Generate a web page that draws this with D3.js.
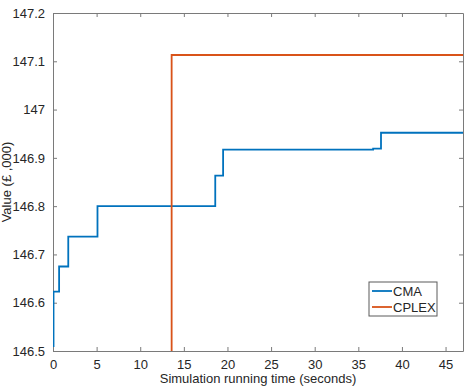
<!DOCTYPE html>
<html>
<head>
<meta charset="utf-8">
<script src="https://cdn.jsdelivr.net/npm/d3@7"></script>
<style>
	body { margin: 0; background: #fff; }
	text { font-family: "Liberation Sans", Arial, sans-serif; fill: #262626; }
</style>
</head>
<body>
<div id="chart"></div>
<script>
// CMA best value over time (step plot)
const cmaTime = [0, 0.06, 0.7, 1.75, 5.1, 18.6, 19.5, 36.7, 37.6, 47];
const cmaValue = [146.51, 146.623, 146.675, 146.737, 146.8, 146.863, 146.917, 146.919, 146.952, 146.952];

// CPLEX result appears at ~13.6 s
const cplexTime = [13.6, 13.6, 47];
const cplexValue = [146.4, 147.113, 147.113];

const xTicks = [0, 5, 10, 15, 20, 25, 30, 35, 40, 45];
const yTicks = [146.5, 146.6, 146.7, 146.8, 146.9, 147, 147.1, 147.2];
const yTickLabels = ['146.5', '146.6', '146.7', '146.8', '146.9', '147', '147.1', '147.2'];

const seriesNames = ['CMA', 'CPLEX'];
const seriesColors = ['#0072BD', '#D95319'];

function drawGraph() {
	const margin = { top: 13, right: 8, bottom: 37, left: 53 };
	const width = 471 - margin.left - margin.right;
	const h = 338;

	const xScale = d3.scaleLinear().domain([0, 47]).range([0, width]);
	const yScale = d3.scaleLinear().domain([146.5, 147.2]).range([h, 0]);

	const svg = d3
		.select('#chart')
		.append('svg')
		.attr('width', 471)
		.attr('height', 388)
		.append('g')
		.attr('transform', `translate(${margin.left}, ${margin.top})`);

	svg.append('defs').append('clipPath').attr('id', 'clip').append('rect').attr('width', width).attr('height', h);

	const tickLen = 4;
	const axisColor = '#7a7a7a';

	// box axes, ticks pointing inward
	const xBottom = svg.append('g').attr('transform', `translate(0, ${h})`)
		.call(d3.axisBottom(xScale).tickValues(xTicks).tickSizeInner(-tickLen).tickSizeOuter(0).tickPadding(9));
	const xTop = svg.append('g')
		.call(d3.axisTop(xScale).tickValues(xTicks).tickSizeInner(-tickLen).tickSizeOuter(0).tickFormat(''));
	const yLeft = svg.append('g')
		.call(d3.axisLeft(yScale).tickValues(yTicks).tickSizeInner(-tickLen).tickSizeOuter(0).tickPadding(8)
			.tickFormat((d, i) => yTickLabels[i]));
	const yRight = svg.append('g').attr('transform', `translate(${width}, 0)`)
		.call(d3.axisRight(yScale).tickValues(yTicks).tickSizeInner(-tickLen).tickSizeOuter(0).tickFormat(''));

	[xBottom, xTop, yLeft, yRight].forEach((g) => {
		g.selectAll('path').attr('stroke', axisColor);
		g.selectAll('line').attr('stroke', axisColor);
		g.selectAll('text').style('font-size', '13px').attr('fill', '#262626');
	});

	const line = d3.line()
		.x((d) => xScale(d[0]))
		.y((d) => yScale(d[1]))
		.curve(d3.curveStepAfter);

	const series = [
		d3.zip(cmaTime, cmaValue),
		d3.zip(cplexTime, cplexValue),
	];

	svg.append('g').attr('clip-path', 'url(#clip)')
		.selectAll('path')
		.data(series)
		.enter()
		.append('path')
		.attr('d', (d) => line(d))
		.attr('fill', 'none')
		.attr('stroke', (d, i) => seriesColors[i])
		.attr('stroke-width', 1.8);

	// axis titles
	svg.append('text')
		.attr('x', width / 2)
		.attr('y', h + 32)
		.attr('text-anchor', 'middle')
		.style('font-size', '13px')
		.text('Simulation running time (seconds)');

	svg.append('text')
		.attr('transform', `translate(${-42}, ${h / 2}) rotate(-90)`)
		.attr('text-anchor', 'middle')
		.style('font-size', '13px')
		.text('Value (£ ,000)');

	// legend
	const legend = svg.append('g').attr('transform', `translate(${369 - margin.left}, ${282 - margin.top})`);
	legend.append('rect').attr('width', 68).attr('height', 34).attr('fill', '#fff').attr('stroke', '#5a5a5a').attr('stroke-width', 1);
	seriesNames.forEach((name, i) => {
		const y = 9 + i * 16;
		legend.append('line').attr('x1', 3).attr('x2', 23).attr('y1', y).attr('y2', y)
			.attr('stroke', seriesColors[i]).attr('stroke-width', 1.8);
		legend.append('text').attr('x', 24).attr('y', y).attr('dy', '0.35em').style('font-size', '13px').text(name);
	});
}

drawGraph();
</script>
</body>
</html>
